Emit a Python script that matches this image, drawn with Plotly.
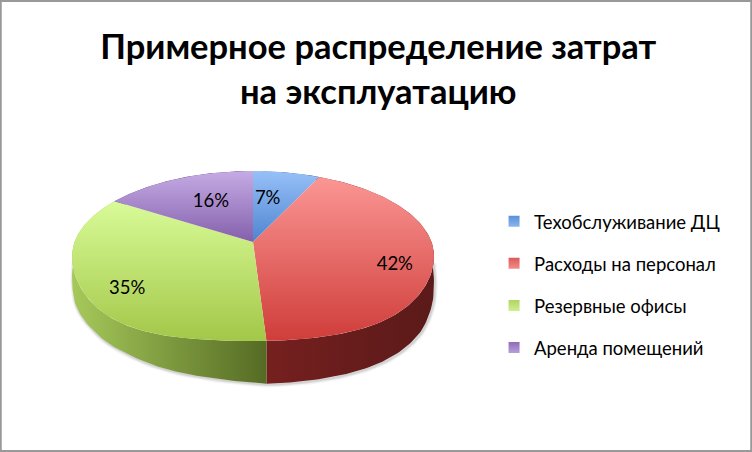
import numpy as np
import plotly.graph_objects as go

title_text = "Примерное распределение затрат<br>на эксплуатацию"
categories = ["Техобслуживание ДЦ", "Расходы на персонал", "Резервные офисы", "Аренда помещений"]
shares = [7, 42, 35, 16]
top_colors = [["#4d85d0", "#97c0f8"], ["#cf3d3a", "#fb9694"], ["#a3c748", "#d8fb98"], ["#8460ab", "#c5abe5"]]
side_colors = [["#3a6296", "#27476f"], ["#75201f", "#5a1a19"], ["#a6c95a", "#556b24"], ["#5e4579", "#453359"]]
legend_colors = [["#5a8fd8", "#8cb6ee"], ["#dc5a58", "#f08d8b"], ["#b0d460", "#d0ee90"], ["#8e6cb6", "#b89edb"]]
label_radius = [0.58, 0.80, 0.80, 0.58]
label_nudge_x = [-6, -2, 6, 4]
label_nudge_y = [0, 10, 7, -1]

# projection of the pie disc to the page: perspective tilt
CX, CY, A, B, K = 253, 242, 178.5, 82.7, 0.1647
WALL_ANGLE = [0, 90, 105, 120, 150, 176, 200, 218, 235, 250, 265, 270, 360]
WALL_DEPTH = [0, 15, 33, 39, 41, 43, 35, 28, 26, 28, 18, 15, 0]


def project(theta, r=1.0):
    u = r * np.sin(theta)
    v = r * np.cos(theta)
    w = 1 + K * v
    bulge = np.where(v < 0, np.where(u > 0, 6, 9) * r ** 2 * np.sin(2 * theta) ** 2, 0)
    return CX + A * u / w, CY - B * v / w + bulge


def wall(theta):
    return np.interp(np.degrees(theta), WALL_ANGLE, WALL_DEPTH)


cum = np.cumsum([0] + shares) / sum(shares) * 2 * np.pi
fig = go.Figure()

# soft shadow under the body
th = np.radians(np.linspace(92, 268, 200))
sx, sy = project(th)
sy = sy + wall(th)
for width, alpha in [(6, 0.06), (4, 0.09), (2, 0.14)]:
    fig.add_trace(go.Scatter(x=sx + 1, y=sy + 1, mode="lines", line=dict(color=f"rgba(90,90,90,{alpha})", width=width),
                             showlegend=False, hoverinfo="skip"))

# side walls (visible front part only)
for i in range(4):
    th = np.linspace(cum[i], cum[i + 1], 120)
    x, y = project(th)
    xs = np.concatenate([x, x[::-1]])
    ys = np.concatenate([y, (y + wall(th))[::-1]])
    fig.add_trace(go.Scatter(x=xs, y=ys, mode="lines", line=dict(width=0), fill="toself",
                             fillgradient=dict(type="horizontal", colorscale=[[0, side_colors[i][0]], [1, side_colors[i][1]]]),
                             showlegend=False, hoverinfo="skip"))

# top faces
for i in range(4):
    th = np.linspace(cum[i], cum[i + 1], 120)
    x, y = project(th)
    xs = np.concatenate([[CX], x, [CX]])
    ys = np.concatenate([[CY], y, [CY]])
    fig.add_trace(go.Scatter(x=xs, y=ys, mode="lines", line=dict(width=0), fill="toself",
                             fillgradient=dict(type="vertical", colorscale=[[0, top_colors[i][0]], [1, top_colors[i][1]]]),
                             showlegend=False, hoverinfo="skip"))

# data labels
mid = (cum[:-1] + cum[1:]) / 2
lx, ly = project(mid, np.array(label_radius))
fig.add_trace(go.Scatter(x=lx + np.array(label_nudge_x), y=ly + np.array(label_nudge_y), mode="text",
                         text=[f"{s}%" for s in shares],
                         textfont=dict(family="Lato", size=18.5, color="#000000"), textposition="middle center",
                         showlegend=False, hoverinfo="skip"))

# legend entries
for name, color in zip(categories, legend_colors):
    fig.add_trace(go.Scatter(x=[None], y=[None], mode="markers", name=name, legendgroup=name,
                             marker=dict(symbol="square", size=11, color=color[0],
                                         gradient=dict(type="vertical", color=color[1]))))

fig.update_layout(
    width=752, height=452, margin=dict(l=0, r=0, t=0, b=0),
    paper_bgcolor="#ffffff", plot_bgcolor="#ffffff",
    font=dict(family="Lato", color="#000000"),
    title=dict(text=title_text, x=0.503, xanchor="center", y=0.870, yanchor="middle", yref="container",
               font=dict(family="Lato", size=34.5, color="#000000", weight="bold")),
    xaxis=dict(range=[0, 752], visible=False, fixedrange=True),
    yaxis=dict(range=[452, 0], visible=False, fixedrange=True),
    legend=dict(x=0.657, y=0.37, xanchor="left", yanchor="middle", font=dict(family="Lato", size=18.5),
                tracegroupgap=15, bgcolor="rgba(0,0,0,0)", itemclick=False),
    shapes=[dict(type="rect", xref="paper", yref="paper", x0=0.001, x1=0.999, y0=0.002, y1=0.998,
                 line=dict(color="#999999", width=2))],
)
fig.write_html("out.html", config={"displayModeBar": False},
               post_script="document.body.style.margin='0';document.body.style.overflow='hidden';")
